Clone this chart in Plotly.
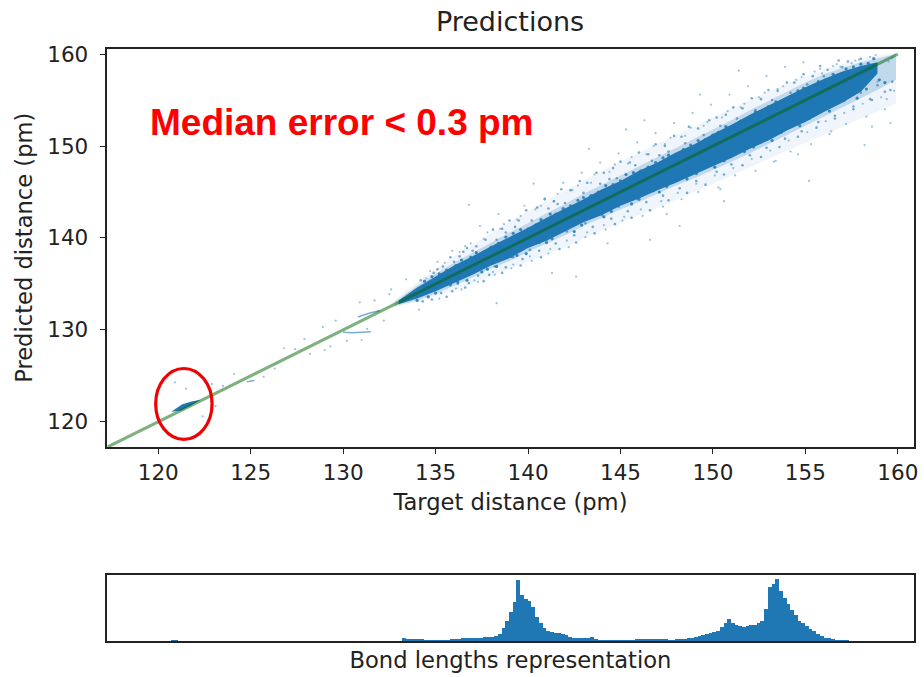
import plotly.graph_objects as go

W, H = 924, 677
FONT = "DejaVu Sans"
BLUE = "#1f77b4"

# --- Band of predictions (target, predicted edges)
band_x = [133, 134, 135, 136, 137, 138, 139, 140, 141, 142, 143, 144, 145, 146,
          147, 148, 149, 150, 151, 152, 153, 154, 155, 156, 157, 158, 158.9]
band_upper = [133.2, 134.6, 135.8, 137.0, 138.0, 139.1, 140.1, 141.1, 142.2, 143.2, 144.2, 145.3,
              146.2, 147.3, 148.2, 149.3, 150.2, 151.3, 152.3, 153.4, 154.4, 155.4, 156.4, 157.3,
              158.1, 158.7, 159.1]
band_lower = [132.8, 133.4, 134.2, 135.1, 136.0, 137.0, 137.8, 138.9, 139.7, 140.7, 141.7, 142.5,
              143.5, 144.3, 145.2, 146.0, 146.9, 147.8, 148.7, 149.7, 150.6, 151.7, 152.6, 153.7,
              154.7, 155.9, 157.9]
mid_x = [132.8, 134, 135, 136, 137, 138, 139, 140, 141, 142, 143, 144, 145, 146, 147, 148, 149, 150,
         151, 152, 153, 154, 155, 156, 157, 158, 159, 159.9]
mid_upper = [133.1, 134.8, 136.1, 137.3, 138.4, 139.5, 140.6, 141.6, 142.7, 143.7, 144.8, 145.8,
             146.8, 147.8, 148.8, 149.8, 150.8, 151.8, 152.8, 153.9, 154.9, 155.9, 156.9, 157.8,
             158.5, 159.1, 159.6, 160.0]
mid_lower = [132.6, 133.2, 133.9, 134.8, 135.7, 136.7, 137.5, 138.5, 139.4, 140.3, 141.3, 142.2,
             143.1, 143.9, 144.8, 145.7, 146.5, 147.4, 148.3, 149.2, 150.2, 151.2, 152.2, 153.2,
             154.2, 155.2, 156.2, 157.2]
halo_x = [132.6, 134, 136, 138, 140, 142, 144, 146, 148, 150, 152, 154, 156, 158, 159.9]
halo_upper = [133.0, 135.2, 138.0, 140.5, 142.9, 145.2, 147.3, 149.3, 151.2, 153.1, 155.0, 156.8,
              158.3, 159.5, 160.2]
halo_lower = [132.4, 133.0, 134.3, 135.8, 137.4, 139.0, 140.8, 142.5, 144.1, 145.9, 147.7, 149.5,
              151.2, 153.0, 154.6]

cluster_x = [120.7, 121.3, 121.8, 122.3, 121.8, 121.2]
cluster_y = [121.1, 121.9, 122.2, 122.4, 121.8, 121.2]
streak_a_x = [130.0, 130.5, 131.5]
streak_a_y = [129.75, 129.7, 129.8]
streak_b_x = [130.8, 131.4, 132.0]
streak_b_y = [131.4, 131.8, 132.1]
streak_c_x = [124.8, 125.2]
streak_c_y = [124.35, 124.5]

# --- Scattered points
speck_x = [122.9, 123.5, 124.1, 125.7, 126.3, 127.4, 128.2, 128.9, 129.3, 129.6, 130.2, 130.9,
           131.3, 131.7, 132.2, 132.6, 121.5, 120.9, 122.4, 123.1, 126.8, 127.9, 129.0, 131.0,
           132.5, 133.4, 134.1, 134.7, 135.2, 135.9, 136.4, 136.9, 137.3, 137.8, 138.2, 138.7,
           139.1, 139.6, 140.2, 140.7, 141.1, 141.6, 142.2, 142.7, 143.1, 143.6, 144.2, 144.7,
           145.1, 145.6, 146.2, 146.8, 147.3, 147.7, 148.3, 148.8, 149.2, 149.7, 150.3, 150.8,
           151.2, 151.7, 152.3, 152.8, 153.3, 153.8, 154.2, 154.8, 155.3, 155.8, 156.3, 156.7,
           157.2, 157.7, 158.3, 158.8, 159.3, 159.7,
           134.5, 135.5, 136.6, 137.6, 138.5, 139.4, 140.4, 141.4, 142.4, 143.4, 144.4, 145.4,
           146.4, 147.4, 148.5, 149.5, 150.5, 151.5, 152.5, 153.5, 154.5, 155.5, 156.5, 157.5,
           158.5, 159.5, 159.8, 159.1, 158.1, 157.1,
           136.1, 137.1, 138.1, 139.2, 140.1, 141.2, 142.1, 143.2, 144.1, 145.2, 146.1, 147.2,
           148.1, 149.1, 150.1, 151.1, 152.1, 153.1, 154.1, 155.1, 156.1,
           135.1, 136.3, 137.4, 138.4, 139.8, 140.9, 141.9, 142.9, 143.9, 144.9, 145.9, 146.9,
           147.9, 148.9, 149.9, 150.9, 151.9, 152.9, 153.9, 154.9, 155.9, 156.9, 157.9, 158.9,
           138.3, 141.3, 144.3, 147.5, 150.4, 153.4, 156.4, 159.4, 140.3, 143.3, 146.3, 149.3,
           142.6, 146.6, 150.6, 154.6, 158.6, 145.3, 151.4, 148.2, 155.2, 158.2, 159.6, 136.8]
speck_y = [124.1, 123.9, 125.2, 124.9, 125.8, 127.9, 127.4, 130.3, 128.2, 131.0, 128.8, 133.0,
           130.1, 133.2, 131.0, 134.4, 123.6, 124.3, 120.6, 121.7, 128.0, 129.0, 127.8, 128.9,
           133.9, 135.5, 132.2, 136.4, 133.4, 138.6, 134.4, 139.4, 135.2, 140.6, 136.0, 141.5,
           136.7, 142.4, 137.5, 143.5, 138.3, 144.8, 139.0, 145.7, 140.1, 146.9, 140.9, 148.0,
           141.9, 148.8, 142.4, 150.0, 143.4, 150.9, 144.2, 152.0, 145.0, 152.6, 145.5, 153.8,
           146.8, 154.6, 147.3, 155.8, 148.3, 156.5, 149.4, 157.5, 150.2, 158.4, 151.3, 158.9,
           152.4, 159.3, 153.2, 159.9, 154.0, 159.6,
           135.6, 137.3, 139.1, 139.9, 141.0, 142.0, 143.1, 144.0, 145.2, 146.0, 147.2, 148.1,
           149.1, 150.2, 151.1, 152.2, 153.1, 154.2, 155.3, 156.2, 157.2, 158.1, 158.7, 159.0,
           159.7, 159.2, 156.0, 155.3, 154.6, 153.6,
           134.5, 135.4, 136.3, 137.1, 138.0, 138.8, 139.7, 140.6, 141.4, 142.3, 143.1, 144.0,
           144.9, 145.9, 146.8, 147.6, 148.6, 149.5, 150.6, 151.5, 152.7,
           137.4, 138.5, 141.3, 142.6, 143.5, 144.3, 146.0, 147.1, 148.2, 149.2, 150.4, 151.4,
           152.5, 153.6, 154.5, 155.6, 156.5, 157.6, 158.6, 159.1, 157.9, 158.6, 159.4, 157.0,
           132.9, 136.2, 139.4, 142.6, 145.3, 148.4, 151.6, 155.1, 145.9, 149.7, 152.8, 155.6,
           135.8, 139.8, 144.0, 149.1, 152.1, 151.8, 158.2, 141.3, 146.2, 150.1, 152.5, 143.6]

# Points close to the band, on the upper and lower edges
fringe_up_x = [134.2, 134.9, 135.4, 135.8, 136.3, 136.7, 137.2, 137.7, 138.1, 138.6, 139.0, 139.5, 139.9, 140.5,
               140.9, 141.4, 141.8, 142.3, 142.8, 143.2, 143.7, 144.1, 144.6, 145.0, 145.5, 146.0, 146.5, 146.9,
               147.4, 147.9, 148.3, 148.7, 149.2, 149.8, 150.2, 150.7, 151.1, 151.6, 152.1, 152.6, 153.0, 153.5,
               154.0, 154.4, 154.9, 155.4, 155.8, 156.2, 156.8, 157.3, 135.1, 136.0, 137.0, 138.3, 139.3, 140.2,
               141.1, 142.0, 143.0, 143.9, 144.8, 145.8, 146.7, 147.6, 148.5, 149.5, 150.4, 151.3, 152.3, 153.2,
               154.2, 155.1, 156.0, 157.0, 158.0, 136.5, 138.8, 141.6, 144.4, 147.1]
fringe_up_y = [135.4, 136.2, 136.9, 137.9, 138.0, 138.9, 139.1, 139.8, 140.9, 141.0, 141.9, 141.9, 143.0, 143.3,
               144.2, 144.0, 145.3, 145.2, 146.2, 146.0, 147.1, 147.1, 147.6, 148.3, 148.2, 149.3, 149.1, 150.2,
               150.0, 151.1, 151.0, 152.1, 151.9, 152.8, 153.1, 153.4, 154.2, 154.1, 155.2, 155.1, 156.1, 156.0,
               156.9, 156.9, 157.8, 157.6, 158.7, 158.3, 159.3, 159.2, 136.6, 137.4, 138.6, 139.8, 141.2, 141.9,
               143.2, 143.8, 144.9, 145.9, 146.5, 147.9, 148.4, 149.4, 150.3, 151.2, 152.2, 153.0, 153.9, 155.0,
               155.8, 156.7, 157.6, 158.6, 159.5, 138.5, 140.6, 143.7, 146.4, 149.0]
fringe_low_x = [134.3, 134.8, 135.3, 135.9, 136.2, 136.8, 137.3, 137.9, 138.2, 138.8, 139.2, 139.7, 140.1, 140.6,
                141.0, 141.5, 142.1, 142.5, 143.1, 143.5, 144.0, 144.5, 144.9, 145.4, 145.9, 146.4, 146.8, 147.3,
                147.8, 148.2, 148.7, 149.1, 149.6, 150.2, 150.6, 151.0, 151.5, 152.0, 152.4, 152.9, 153.4, 153.9,
                154.3, 154.8, 155.2, 155.7, 156.1, 156.6, 157.1, 157.6, 158.0, 158.5, 158.9, 159.3, 159.7,
                135.6, 136.6, 137.6, 138.6, 139.6, 140.7, 141.7, 142.6, 143.6, 144.7, 145.6, 146.6, 147.6,
                148.6, 149.6, 150.6, 151.6, 152.6, 153.6, 154.6, 155.6, 156.6, 157.6, 158.6, 159.6]
fringe_low_y = [133.1, 133.3, 134.0, 134.2, 135.0, 135.1, 135.9, 136.0, 136.9, 136.8, 137.9, 137.7, 138.7, 138.6,
                139.8, 139.4, 140.7, 140.3, 141.6, 141.2, 142.5, 142.1, 143.4, 142.9, 144.3, 143.9, 145.1, 144.6,
                146.1, 145.4, 147.0, 146.2, 147.8, 147.2, 148.7, 148.0, 149.6, 149.0, 150.5, 149.8, 151.4, 150.8,
                152.2, 151.6, 153.1, 152.6, 154.0, 153.3, 154.9, 154.3, 155.8, 155.1, 156.6, 155.9, 157.0,
                133.6, 134.6, 135.3, 136.2, 137.0, 137.9, 138.8, 139.5, 140.5, 141.5, 142.2, 143.0, 144.1,
                144.9, 145.8, 146.9, 147.9, 148.8, 149.9, 151.0, 152.0, 153.0, 154.0, 155.0, 156.1]

# Points right on the rough edge of the solid band
edge_x = [134.4, 135.2, 136.1, 136.9, 137.6, 138.4, 139.2, 140.0, 140.7, 141.5, 142.3, 143.0, 143.8, 144.6,
          145.3, 146.1, 146.9, 147.6, 148.4, 149.2, 150.0, 150.7, 151.5, 152.3, 153.0, 153.8, 154.6, 155.3,
          156.1, 156.9, 157.6, 158.4, 134.8, 135.6, 136.4, 137.2, 138.0, 138.8, 139.6, 140.4, 141.2, 141.9,
          142.7, 143.4, 144.2, 145.0, 145.7, 146.5, 147.3, 148.0, 148.8, 149.6, 150.3, 151.1, 151.9, 152.6,
          153.4, 154.2, 154.9, 155.7, 156.5, 157.2, 158.0, 158.7,
          134.0, 135.0, 135.8, 136.7, 137.5, 138.3, 139.1, 139.9, 140.6, 141.3, 142.2, 142.9, 143.7, 144.5,
          145.2, 146.0, 146.8, 147.5, 148.3, 149.1, 149.9, 150.6, 151.4, 152.2, 152.9, 153.7, 154.5, 155.2,
          156.0, 156.8, 157.5, 158.3, 159.0, 134.6, 136.2, 137.8, 139.4, 141.0, 142.5, 144.1, 145.6, 147.1,
          148.6, 150.1, 151.7, 153.2, 154.7, 156.3, 157.8, 159.3]
edge_y = [135.3, 136.1, 137.0, 137.9, 138.4, 139.4, 140.5, 141.0, 142.0, 142.6, 143.5, 144.4, 145.0, 145.8,
          146.9, 147.3, 148.2, 149.0, 149.6, 150.6, 151.2, 152.1, 152.7, 153.7, 154.3, 154.9, 156.0, 156.5,
          157.2, 157.8, 158.6, 159.0, 135.8, 136.5, 137.6, 138.4, 139.0, 140.1, 140.9, 141.4, 142.6, 143.2,
          144.1, 144.6, 145.7, 146.2, 147.1, 147.7, 148.7, 149.1, 150.1, 150.7, 151.5, 152.2, 153.1, 153.7,
          154.8, 155.4, 156.3, 157.0, 157.8, 158.4, 158.9, 159.5,
          133.2, 134.0, 134.9, 135.4, 136.3, 136.9, 138.0, 138.3, 139.5, 139.9, 141.1, 141.4, 142.6, 142.9,
          144.0, 144.2, 145.4, 145.6, 146.9, 147.0, 148.4, 148.4, 149.9, 149.9, 151.3, 151.5, 152.9, 153.0,
          154.5, 154.8, 156.0, 156.2, 157.2, 133.6, 135.2, 136.6, 138.1, 139.5, 140.7, 142.3, 143.7, 145.0,
          146.4, 147.7, 149.4, 150.6, 152.2, 153.8, 155.2, 156.9]

# --- Identity line
line_ends = [117.25, 160.0]

# --- Bond lengths histogram (bar heights)
hist_start = 133.3
hist_step = 0.2
hist_values = [3.3, 2.4, 2.3, 2.5, 2.3, 2.2, 1.8, 1.0, 1.0, 1.0, 1.0, 1.2, 1.5, 2.0, 2.4, 2.8, 3.3, 3.1,
               3.3, 3.2, 3.4, 3.7, 4.3, 4.6, 4.4, 5.0, 7.0, 13, 21, 30, 40, 62, 47, 43, 41, 35, 25, 18,
               13, 10, 9, 8.5, 8, 7, 6, 4.5, 3.4, 3.3, 3.3, 3.4, 3.7, 4.0, 2.5, 1.8, 1.4, 1.2, 1.0, 0.8,
               0.7, 0.8, 1.0, 1.3, 1.6, 2.0, 2.5, 2.7, 2.6, 2.5, 2.7, 2.7, 2.3, 1.9, 1.7, 1.8, 2.0, 2.2,
               2.6, 3.0, 3.7, 4.3, 5.5, 6.5, 7.7, 8.5, 9.3, 10.5, 14, 18, 23, 19, 16, 15, 14, 15.5, 16, 16,
               18, 21, 33, 55, 58, 63, 51, 44, 38, 32, 27, 21, 18, 15, 12.5, 10, 7.5, 5, 3.8, 3.0, 2.2,
               1.5, 1.1, 0.7, 0.4, 0.2]
hist_small_x = [120.9]
hist_small_y = [0.6]

x_ticks = [120, 125, 130, 135, 140, 145, 150, 155, 160]
y_ticks = [120, 130, 140, 150, 160]
x_range = [117.25, 160.85]
y_range = [117.27, 160.6]

fig = go.Figure()


def polygon(xs, upper, lower, color):
    fig.add_trace(go.Scatter(x=xs + xs[::-1], y=upper + lower[::-1], mode="lines", fill="toself",
                             fillcolor=color, line=dict(width=0), hoverinfo="skip", showlegend=False))


polygon(halo_x, halo_upper, halo_lower, "rgba(31,119,180,0.07)")
polygon(mid_x, mid_upper, mid_lower, "rgba(31,119,180,0.22)")
fig.add_trace(go.Scatter(x=speck_x, y=speck_y, mode="markers", showlegend=False,
                         marker=dict(size=2.2, color=BLUE, opacity=0.45, line=dict(width=0))))
fig.add_trace(go.Scatter(x=fringe_up_x + fringe_low_x, y=fringe_up_y + fringe_low_y, mode="markers", showlegend=False,
                         marker=dict(size=2.6, color=BLUE, opacity=0.6, line=dict(width=0))))
fig.add_trace(go.Scatter(x=edge_x, y=edge_y, mode="markers", showlegend=False,
                         marker=dict(size=3.2, color=BLUE, opacity=0.85, line=dict(width=0))))
polygon(band_x, band_upper, band_lower, BLUE)
fig.add_trace(go.Scatter(x=cluster_x, y=cluster_y, mode="lines", fill="toself", fillcolor=BLUE,
                         line=dict(width=0), showlegend=False))
for sx, sy in [(streak_a_x, streak_a_y), (streak_b_x, streak_b_y), (streak_c_x, streak_c_y)]:
    fig.add_trace(go.Scatter(x=sx, y=sy, mode="lines", line=dict(color="rgba(31,119,180,0.6)", width=1.5),
                             showlegend=False))
fig.add_trace(go.Scatter(x=line_ends, y=line_ends, mode="lines", showlegend=False,
                         line=dict(color="rgba(0,100,0,0.5)", width=3)))

fig.add_trace(go.Bar(x=[hist_start + i * hist_step for i in range(len(hist_values))], y=hist_values,
                     width=hist_step * 1.05, marker=dict(color=BLUE, line=dict(width=0)),
                     xaxis="x2", yaxis="y2", showlegend=False))
fig.add_trace(go.Bar(x=hist_small_x, y=hist_small_y, width=0.4, marker=dict(color=BLUE, line=dict(width=0)),
                     xaxis="x2", yaxis="y2", showlegend=False))

axis_style = dict(showgrid=False, zeroline=False, showline=True, mirror=True, linecolor="#222222", linewidth=1.6)
tick_style = dict(ticks="outside", tickwidth=1.4, tickcolor="#222222",
                  tickfont=dict(family=FONT, size=21.5, color="#222222"))
title_font = dict(family=FONT, size=22.6, color="#222222")

fig.update_layout(
    width=W, height=H, autosize=False, margin=dict(l=0, r=0, t=0, b=0),
    paper_bgcolor="white", plot_bgcolor="white", bargap=0, showlegend=False,
    xaxis=dict(domain=[108 / W, 918.5 / W], range=x_range, tickvals=x_ticks, anchor="y", ticklen=5,
               title=dict(text="Target distance (pm)", font=title_font, standoff=11),
               **axis_style, **tick_style),
    yaxis=dict(domain=[1 - 444.5 / H, 1 - 42 / H], range=y_range, tickvals=y_ticks, anchor="x", ticklen=6,
               ticklabelstandoff=7,
               title=dict(text="Predicted distance (pm)", font=title_font, standoff=8),
               **axis_style, **tick_style),
    xaxis2=dict(domain=[108 / W, 918.5 / W], range=x_range, anchor="y2", showticklabels=False, ticks="", **axis_style,
                title=dict(text="Bond lengths representation", font=title_font, standoff=10)),
    yaxis2=dict(domain=[1 - 641 / H, 1 - 574 / H], range=[0, 67], anchor="x2", showticklabels=False, ticks="", **axis_style),
    title=dict(text="Predictions", x=510 / W, xanchor="center", y=1 - 22 / H, yanchor="middle",
               font=dict(family=FONT, size=27, color="#222222")),
    annotations=[dict(text="<b>Median error &lt; 0.3 pm</b>", xref="paper", yref="paper", x=149 / W, y=1 - 117 / H,
                      xanchor="left", yanchor="middle", showarrow=False,
                      font=dict(family="Liberation Sans", size=37, color="#ff0000"))],
    shapes=[dict(type="circle", xref="x", yref="y", x0=119.86, x1=122.91, y0=118.1, y1=125.8,
                 line=dict(color="#f00000", width=3.2))],
)
fig.write_html("out.html", config={"displayModeBar": False},
               post_script="document.body.style.margin='0';document.body.style.overflow='hidden';")
